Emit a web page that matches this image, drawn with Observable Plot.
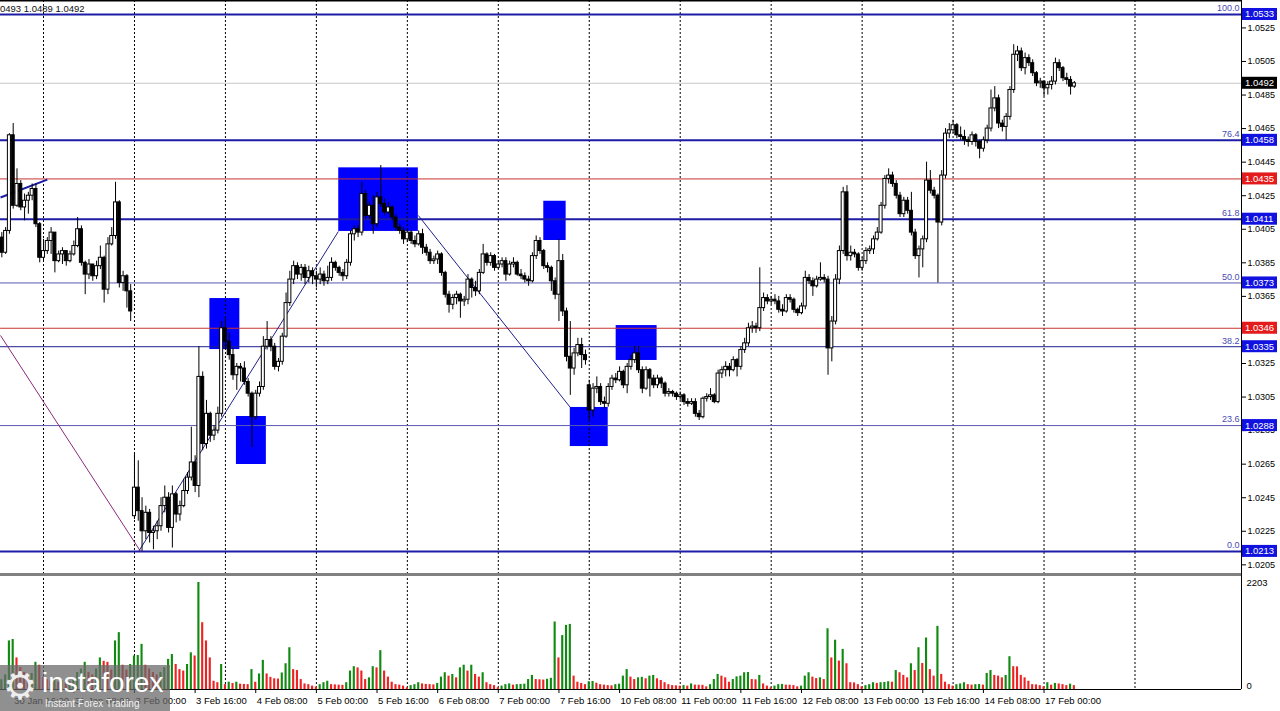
<!DOCTYPE html>
<html><head><meta charset="utf-8">
<script src="https://cdn.jsdelivr.net/npm/d3@7"></script>
<script src="https://cdn.jsdelivr.net/npm/@observablehq/plot@0.6"></script>
<style>
html,body{margin:0;padding:0;background:#fff;}
#wrap{position:relative;width:1280px;height:711px;overflow:hidden;background:#fff;font-family:"Liberation Sans",Arial,sans-serif;}
#main{position:absolute;left:0;top:0;}
#vol{position:absolute;left:0;top:574px;}
#sep{position:absolute;left:0;top:573px;width:1241px;height:3px;background:#808080;}
#hdr{position:absolute;left:0px;top:3px;font-size:9.5px;color:#101010;white-space:nowrap;}
#wm{position:absolute;left:0;top:665px;width:170px;height:46px;background:rgba(105,105,105,0.74);color:#fff;}
#wm .gear{position:absolute;left:3px;top:0px;font-size:38px;line-height:42px;font-family:"DejaVu Sans",sans-serif;color:#eee;}
#wm .brand{position:absolute;left:42px;top:3px;font-size:28px;line-height:30px;font-family:"Liberation Sans",Arial,sans-serif;}
#wm .tag{position:absolute;left:45px;top:33px;font-size:10px;line-height:11px;font-family:"Liberation Sans",Arial,sans-serif;color:#f2f2f2;}
</style></head><body>
<div id="wrap">
  <div id="main"></div>
  <div id="vol"></div>
  <div id="sep"></div>
  <div id="hdr">0493 1.0489 1.0492</div>
  <div id="wm"><span class="gear">⚙</span><span class="brand">instaforex</span><span class="tag">Instant Forex Trading</span></div>
</div>
<script>
// EURUSD H1 bars, first bar = 30 Jan 13:00 (bar index -11, index 0 = 31 Jan 00:00)
const open = [1.0400,1.0391,1.0404,1.0461,1.0419,1.0432,1.0418,1.0422,1.0425,1.0429,1.0408,
1.0388,1.0392,1.0398,1.0403,1.0386,1.0390,1.0392,1.0386,1.0390,1.0395,
1.0405,1.0385,1.0378,1.0384,1.0377,1.0383,1.0388,1.0369,1.0396,1.0401,
1.0421,1.0373,1.0377,1.0368,1.0234,1.0251,1.0237,1.0225,1.0236,1.0224,
1.0225,1.0228,1.0240,1.0245,1.0227,1.0247,1.0235,1.0240,1.0249,1.0257,
1.0266,1.0252,1.0317,1.0277,1.0295,1.0282,1.0285,1.0295,1.0346,1.0338,
1.0330,1.0318,1.0323,1.0322,1.0314,1.0307,1.0293,1.0307,1.0311,1.0335,
1.0339,1.0335,1.0323,1.0326,1.0341,1.0361,1.0375,1.0383,1.0378,1.0382,
1.0376,1.0380,1.0377,1.0375,1.0378,1.0374,1.0376,1.0385,1.0382,1.0379,
1.0377,1.0385,1.0402,1.0405,1.0403,1.0426,1.0413,1.0419,1.0408,1.0424,
1.0420,1.0415,1.0418,1.0412,1.0406,1.0404,1.0399,1.0403,1.0398,1.0396,
1.0402,1.0394,1.0391,1.0386,1.0387,1.0390,1.0379,1.0366,1.0360,1.0364,
1.0366,1.0362,1.0363,1.0375,1.0370,1.0368,1.0379,1.0390,1.0385,1.0389,
1.0382,1.0384,1.0386,1.0378,1.0384,1.0385,1.0378,1.0377,1.0375,1.0374,
1.0389,1.0398,1.0392,1.0383,1.0382,1.0374,1.0366,1.0386,1.0356,1.0329,
1.0322,1.0331,1.0336,1.0330,1.0312,1.0297,1.0310,1.0311,1.0302,1.0301,
1.0311,1.0316,1.0315,1.0320,1.0312,1.0323,1.0327,1.0331,1.0321,1.0310,
1.0321,1.0316,1.0312,1.0316,1.0313,1.0307,1.0308,1.0307,1.0305,1.0306,
1.0302,1.0301,1.0302,1.0295,1.0293,1.0304,1.0305,1.0306,1.0302,1.0319,
1.0321,1.0323,1.0321,1.0327,1.0323,1.0333,1.0337,1.0346,1.0347,1.0346,
1.0358,1.0364,1.0362,1.0363,1.0362,1.0357,1.0356,1.0364,1.0363,1.0357,
1.0355,1.0359,1.0376,1.0374,1.0371,1.0375,1.0376,1.0375,1.0334,1.0350,
1.0375,1.0392,1.0427,1.0389,1.0391,1.0390,1.0382,1.0386,1.0392,1.0393,
1.0399,1.0403,1.0419,1.0435,1.0437,1.0432,1.0425,1.0414,1.0422,1.0416,
1.0403,1.0389,1.0393,1.0399,1.0434,1.0428,1.0425,1.0409,1.0437,1.0462,
1.0464,1.0467,1.0461,1.0460,1.0458,1.0457,1.0461,1.0457,1.0453,1.0458,
1.0465,1.0477,1.0483,1.0468,1.0466,1.0472,1.0488,1.0509,1.0511,1.0501,
1.0507,1.0504,1.0498,1.0492,1.0493,1.0489,1.0491,1.0493,1.0504,1.0501,
1.0495,1.0494,1.0490];
const high = [1.0403,1.0406,1.0462,1.0468,1.0441,1.0434,1.0426,1.0427,1.0432,1.0432,1.0409,
1.0399,1.0400,1.0406,1.0403,1.0392,1.0394,1.0392,1.0392,1.0398,1.0412,
1.0407,1.0386,1.0387,1.0384,1.0386,1.0395,1.0389,1.0400,1.0406,1.0433,
1.0422,1.0380,1.0378,1.0372,1.0271,1.0267,1.0245,1.0240,1.0238,1.0228,
1.0231,1.0245,1.0252,1.0248,1.0252,1.0248,1.0243,1.0256,1.0260,1.0287,
1.0270,1.0335,1.0320,1.0303,1.0296,1.0288,1.0299,1.0350,1.0352,1.0343,
1.0334,1.0325,1.0325,1.0326,1.0316,1.0308,1.0309,1.0314,1.0341,1.0350,
1.0341,1.0337,1.0328,1.0343,1.0367,1.0380,1.0386,1.0385,1.0384,1.0384,
1.0383,1.0382,1.0380,1.0382,1.0380,1.0383,1.0388,1.0386,1.0383,1.0381,
1.0387,1.0404,1.0407,1.0407,1.0433,1.0428,1.0421,1.0425,1.0427,1.0443,
1.0423,1.0421,1.0419,1.0414,1.0408,1.0406,1.0405,1.0404,1.0401,1.0404,
1.0405,1.0396,1.0393,1.0389,1.0392,1.0391,1.0380,1.0368,1.0366,1.0368,
1.0367,1.0365,1.0378,1.0376,1.0374,1.0381,1.0396,1.0391,1.0391,1.0390,
1.0386,1.0388,1.0388,1.0386,1.0388,1.0386,1.0381,1.0379,1.0377,1.0391,
1.0401,1.0400,1.0393,1.0385,1.0383,1.0376,1.0399,1.0390,1.0358,1.0350,
1.0334,1.0340,1.0340,1.0333,1.0315,1.0313,1.0317,1.0313,1.0305,1.0313,
1.0318,1.0319,1.0323,1.0321,1.0325,1.0330,1.0335,1.0335,1.0323,1.0323,
1.0322,1.0318,1.0318,1.0317,1.0314,1.0310,1.0309,1.0308,1.0308,1.0307,
1.0304,1.0304,1.0304,1.0297,1.0305,1.0307,1.0310,1.0307,1.0321,1.0323,
1.0326,1.0325,1.0329,1.0328,1.0335,1.0340,1.0349,1.0350,1.0349,1.0382,
1.0367,1.0366,1.0365,1.0366,1.0365,1.0360,1.0366,1.0366,1.0364,1.0358,
1.0361,1.0380,1.0378,1.0376,1.0377,1.0385,1.0378,1.0377,1.0353,1.0378,
1.0395,1.0430,1.0431,1.0395,1.0393,1.0391,1.0388,1.0394,1.0395,1.0401,
1.0406,1.0421,1.0437,1.0441,1.0439,1.0434,1.0427,1.0424,1.0424,1.0427,
1.0405,1.0395,1.0401,1.0445,1.0440,1.0430,1.0426,1.0440,1.0465,1.0468,
1.0470,1.0468,1.0466,1.0464,1.0460,1.0463,1.0462,1.0458,1.0460,1.0467,
1.0488,1.0490,1.0485,1.0470,1.0474,1.0490,1.0515,1.0514,1.0513,1.0510,
1.0509,1.0506,1.0499,1.0495,1.0493,1.0493,1.0496,1.0507,1.0506,1.0502,
1.0498,1.0496,1.0493];
const low = [1.0388,1.0390,1.0402,1.0417,1.0418,1.0416,1.0410,1.0414,1.0422,1.0406,1.0385,
1.0386,1.0390,1.0390,1.0379,1.0385,1.0384,1.0383,1.0385,1.0389,1.0394,
1.0383,1.0366,1.0375,1.0374,1.0375,1.0381,1.0361,1.0366,1.0395,1.0399,
1.0370,1.0368,1.0358,1.0350,1.0232,1.0231,1.0213,1.0220,1.0218,1.0214,
1.0220,1.0225,1.0236,1.0224,1.0215,1.0230,1.0231,1.0239,1.0247,1.0255,
1.0248,1.0245,1.0273,1.0274,1.0278,1.0279,1.0283,1.0293,1.0333,1.0327,
1.0315,1.0309,1.0314,1.0312,1.0305,1.0275,1.0291,1.0305,1.0309,1.0333,
1.0332,1.0321,1.0320,1.0324,1.0340,1.0359,1.0372,1.0375,1.0374,1.0372,
1.0373,1.0372,1.0370,1.0372,1.0371,1.0372,1.0374,1.0380,1.0377,1.0374,
1.0375,1.0383,1.0398,1.0400,1.0401,1.0411,1.0411,1.0402,1.0406,1.0418,
1.0413,1.0414,1.0410,1.0404,1.0402,1.0396,1.0397,1.0396,1.0394,1.0395,
1.0390,1.0389,1.0384,1.0384,1.0384,1.0377,1.0364,1.0355,1.0357,1.0360,
1.0352,1.0359,1.0360,1.0364,1.0365,1.0366,1.0378,1.0383,1.0383,1.0380,
1.0381,1.0382,1.0374,1.0377,1.0382,1.0377,1.0375,1.0373,1.0371,1.0373,
1.0387,1.0390,1.0381,1.0379,1.0368,1.0363,1.0350,1.0353,1.0326,1.0306,
1.0318,1.0329,1.0322,1.0324,1.0291,1.0293,1.0307,1.0300,1.0298,1.0299,
1.0309,1.0313,1.0314,1.0310,1.0307,1.0321,1.0325,1.0319,1.0307,1.0309,
1.0305,1.0310,1.0310,1.0310,1.0305,1.0305,1.0305,1.0303,1.0303,1.0300,
1.0299,1.0300,1.0293,1.0291,1.0292,1.0302,1.0303,1.0301,1.0301,1.0316,
1.0317,1.0317,1.0320,1.0317,1.0321,1.0331,1.0335,1.0343,1.0343,1.0344,
1.0356,1.0360,1.0360,1.0360,1.0355,1.0353,1.0355,1.0361,1.0355,1.0353,
1.0354,1.0357,1.0372,1.0365,1.0370,1.0374,1.0373,1.0318,1.0326,1.0348,
1.0372,1.0390,1.0386,1.0386,1.0388,1.0380,1.0380,1.0384,1.0390,1.0390,
1.0398,1.0402,1.0417,1.0432,1.0430,1.0423,1.0412,1.0412,1.0414,1.0401,
1.0387,1.0376,1.0382,1.0397,1.0426,1.0423,1.0373,1.0407,1.0435,1.0459,
1.0462,1.0459,1.0458,1.0455,1.0454,1.0455,1.0454,1.0447,1.0451,1.0456,
1.0463,1.0475,1.0465,1.0463,1.0458,1.0470,1.0486,1.0505,1.0499,1.0497,
1.0502,1.0496,1.0490,1.0489,1.0484,1.0485,1.0488,1.0491,1.0499,1.0493,
1.0491,1.0485,1.0489];
const close = [1.0391,1.0404,1.0461,1.0419,1.0432,1.0418,1.0422,1.0425,1.0429,1.0408,1.0388,
1.0392,1.0398,1.0403,1.0386,1.0390,1.0392,1.0386,1.0390,1.0395,1.0405,
1.0385,1.0378,1.0384,1.0377,1.0383,1.0388,1.0369,1.0396,1.0401,1.0421,
1.0373,1.0377,1.0368,1.0356,1.0251,1.0237,1.0225,1.0236,1.0224,1.0225,
1.0228,1.0240,1.0245,1.0227,1.0247,1.0235,1.0240,1.0249,1.0257,1.0266,
1.0252,1.0317,1.0277,1.0295,1.0282,1.0285,1.0295,1.0346,1.0338,1.0330,
1.0318,1.0323,1.0322,1.0314,1.0307,1.0293,1.0307,1.0311,1.0335,1.0339,
1.0335,1.0323,1.0326,1.0341,1.0361,1.0375,1.0383,1.0378,1.0382,1.0376,
1.0380,1.0377,1.0375,1.0378,1.0374,1.0376,1.0385,1.0382,1.0379,1.0377,
1.0385,1.0402,1.0405,1.0403,1.0426,1.0413,1.0419,1.0408,1.0424,1.0420,
1.0415,1.0418,1.0412,1.0406,1.0404,1.0399,1.0403,1.0398,1.0396,1.0402,
1.0394,1.0391,1.0386,1.0387,1.0390,1.0379,1.0366,1.0360,1.0364,1.0366,
1.0362,1.0363,1.0375,1.0370,1.0368,1.0379,1.0390,1.0385,1.0389,1.0382,
1.0384,1.0386,1.0378,1.0384,1.0385,1.0378,1.0377,1.0375,1.0374,1.0389,
1.0398,1.0392,1.0383,1.0382,1.0374,1.0366,1.0386,1.0356,1.0329,1.0322,
1.0331,1.0336,1.0330,1.0327,1.0297,1.0310,1.0311,1.0302,1.0301,1.0311,
1.0316,1.0315,1.0320,1.0312,1.0323,1.0327,1.0331,1.0321,1.0310,1.0321,
1.0316,1.0312,1.0316,1.0313,1.0307,1.0308,1.0307,1.0305,1.0306,1.0302,
1.0301,1.0302,1.0295,1.0293,1.0304,1.0305,1.0306,1.0302,1.0319,1.0321,
1.0323,1.0321,1.0327,1.0323,1.0333,1.0337,1.0346,1.0347,1.0346,1.0358,
1.0364,1.0362,1.0363,1.0362,1.0357,1.0356,1.0364,1.0363,1.0357,1.0355,
1.0359,1.0376,1.0374,1.0371,1.0375,1.0376,1.0375,1.0334,1.0350,1.0375,
1.0392,1.0427,1.0389,1.0391,1.0390,1.0382,1.0386,1.0392,1.0393,1.0399,
1.0403,1.0419,1.0435,1.0437,1.0432,1.0425,1.0414,1.0422,1.0416,1.0403,
1.0389,1.0393,1.0399,1.0434,1.0428,1.0425,1.0409,1.0437,1.0462,1.0464,
1.0467,1.0461,1.0460,1.0458,1.0457,1.0461,1.0457,1.0453,1.0458,1.0465,
1.0477,1.0483,1.0468,1.0466,1.0472,1.0488,1.0509,1.0511,1.0501,1.0507,
1.0504,1.0498,1.0492,1.0493,1.0489,1.0491,1.0493,1.0504,1.0501,1.0495,
1.0494,1.0490,1.0492];
const volume = [200,300,1000,1030,650,450,350,300,330,560,500,
250,200,180,220,150,180,140,160,200,350,
420,560,350,300,420,650,580,560,400,1000,
1170,500,400,515,690,700,930,500,420,350,
300,350,450,620,720,515,410,380,515,755,
690,2203,1375,1000,650,170,140,515,100,150,
125,150,110,105,100,410,150,320,600,320,
250,220,215,340,530,860,410,390,205,115,
100,70,50,100,140,170,100,95,90,85,
140,380,470,445,380,205,240,470,445,800,
380,255,150,100,90,70,35,80,100,140,
115,105,100,95,125,255,345,275,310,240,
445,500,380,500,310,255,345,140,100,80,
35,70,100,115,90,100,105,110,205,290,
205,200,195,210,230,1390,650,1110,1320,1340,
275,150,125,100,160,165,130,100,90,80,
75,100,110,275,410,255,205,240,250,220,
275,290,220,185,140,100,80,75,70,80,
70,115,90,88,86,55,100,205,310,275,
240,150,205,260,275,345,350,205,200,290,
115,70,35,70,100,105,90,88,80,55,
70,275,345,255,225,240,205,1250,650,1015,
585,825,530,140,135,100,55,80,100,140,
125,140,145,160,150,390,345,290,240,530,
390,860,535,1060,410,275,1300,310,150,100,
70,100,115,140,100,90,100,103,90,330,
390,290,275,240,290,675,470,465,290,240,
170,100,95,80,55,140,90,125,115,100,
80,110,80];

// price-axis tick labels (1.0345 sits under the 1.0346 tag in the original and is not shown)
const priceTicks = [1.0205,1.0225,1.0245,1.0265,1.0285,1.0305,1.0325,1.0365,1.0385,1.0405,1.0425,1.0445,1.0465,1.0485,1.0505,1.0525];
// Fibonacci levels
const fibLabels = ["100.0","76.4","61.8","50.0","38.2","23.6","0.0"];
const fibPrices = [1.0533,1.0458,1.0411,1.0373,1.0335,1.0288,1.0213];
const fibStyle  = ["bold","bold","bold","light","thin","light","bold"];
const redLevels = [1.0435,1.0346];
const lastPrice = 1.0492;
// time axis: bar index of each label (index 0 = 31 Jan 00:00)
const timeIdx = [-8,8,24,40,56,72,88,104,120,136,152,168,184,200,216,232,248,264];
const timeText = ["30 Jan 16:00","31 Jan 08:00","3 Feb 00:00","3 Feb 16:00","4 Feb 08:00","5 Feb 00:00","5 Feb 16:00","6 Feb 08:00","7 Feb 00:00","7 Feb 16:00","10 Feb 08:00","11 Feb 00:00","11 Feb 16:00","12 Feb 08:00","13 Feb 00:00","13 Feb 16:00","14 Feb 08:00","17 Feb 00:00"];
// day separators (00:00 of each trading day)
const dayStarts = [0,24,48,72,96,120,144,168,192,216,240,264,288];
// blue zones: bar range and price range
const boxI1 = [43.9,50.9,77.9,132.0,151.1,139.0];
const boxI2 = [51.8,58.8,98.9,137.9,161.9,149.0];
const boxP1 = [1.03637,1.02934,1.04416,1.04217,1.03476,1.02988];
const boxP2 = [1.03333,1.02648,1.04037,1.03983,1.03268,1.02755];
// trend lines
const trendI1 = [-11.35,25.1,98.9,-11.35];
const trendP1 = [1.03417,1.0213,1.04132,1.04239];
const trendI2 = [25.6,77.8,139.0,1.0];
const trendP2 = [1.0213,1.04037,1.02988,1.04346];
const trendColor = ["#8a2a7a","#20208a","#20208a","#1c1ca6"];
const trendWidth = [1,1,1,2];
const volTop = 2203;

const firstBar = -11;
const bars = close.map((c,k)=>({i:firstBar+k,o:open[k],h:high[k],l:low[k],c,v:volume[k],
  up: k===0 || volume[k] > volume[k-1]}));
const fibs = fibPrices.map((p,k)=>({p,label:fibLabels[k],style:fibStyle[k]}));
const boxes = boxI1.map((v,k)=>({i1:v,i2:boxI2[k],p1:boxP1[k],p2:boxP2[k]}));
const trends = trendI1.map((v,k)=>({i1:v,p1:trendP1[k],i2:trendI2[k],p2:trendP2[k],c:trendColor[k],w:trendWidth[k]}));
const timeLabels = timeIdx.map((i,k)=>({i,t:timeText[k]}));

const xDomain = [-11.35, 316.1];
const yDomain = [1.019924, 1.054134];
const FONT = "'Liberation Sans', Arial, sans-serif";

const main = Plot.plot({
  width:1280, height:574, marginLeft:0, marginRight:39, marginTop:0, marginBottom:0,
  style:{fontFamily:FONT, fontSize:"9px", background:"#fff", overflow:"visible", color:"#000"},
  x:{domain:xDomain, axis:null},
  y:{domain:yDomain, axis:"right", ticks:priceTicks, tickFormat:d3.format(".4f"), tickSize:4, tickPadding:2, label:null},
  marks:[
    Plot.rect(boxes,{x1:"i1",x2:"i2",y1:"p1",y2:"p2",fill:"#0000ff"}),
    Plot.ruleX(dayStarts,{stroke:"#000",strokeDasharray:"2,2",strokeWidth:1}),
    Plot.ruleY([lastPrice],{stroke:"#c8c8c8"}),
    Plot.ruleY(redLevels,{stroke:"#cc3333"}),
    Plot.ruleY(fibs.filter(d=>d.style==="bold"),{y:"p",stroke:"#1c1ca6",strokeWidth:2}),
    Plot.ruleY(fibs.filter(d=>d.style==="thin"),{y:"p",stroke:"#1e1e8c",strokeWidth:1}),
    Plot.ruleY(fibs.filter(d=>d.style==="light"),{y:"p",stroke:"#5a5ab0",strokeWidth:1}),
    Plot.text(fibs,{x:xDomain[1],y:"p",text:"label",textAnchor:"end",dx:-2,dy:-6,fill:"#4a4ab4",fontSize:9}),
    Plot.link(trends,{x1:"i1",y1:"p1",x2:"i2",y2:"p2",stroke:d=>d.c,strokeWidth:d=>d.w}),
    Plot.ruleX(bars,{x:"i",y1:"l",y2:"h",stroke:"#000",strokeWidth:1}),
    Plot.rect(bars,{x1:d=>d.i-0.4,x2:d=>d.i+0.4,y1:"o",y2:"c",fill:d=>d.c>=d.o?"#fff":"#000",stroke:"#000",strokeWidth:1}),
    Plot.ruleX([xDomain[1]],{stroke:"#000"}),
    Plot.ruleY([yDomain[1]],{stroke:"#000",strokeWidth:2})
  ]
});
document.getElementById("main").appendChild(main);

// coloured price tags on the right axis, positioned through the plot's y scale
const ys = main.scale("y");
const tags = [
  ...fibPrices.map(p=>({p,bg:"#1212e0"})),
  ...redLevels.map(p=>({p,bg:"#e41b1b"})),
  {p:lastPrice,bg:"#000"}
];
const tg = d3.select(main).append("g").attr("font-family",FONT).attr("font-size",9.5).attr("text-anchor","start");
for (const t of tags){
  const y = ys.apply(t.p);
  tg.append("rect").attr("x",1242).attr("y",y-6).attr("width",35).attr("height",12).attr("fill",t.bg);
  tg.append("text").attr("x",1245).attr("y",y+3.5).attr("text-anchor","start").attr("fill","#fff").text(d3.format(".4f")(t.p));
}

const vol = Plot.plot({
  width:1280, height:137, marginLeft:0, marginRight:39, marginTop:0, marginBottom:22,
  style:{fontFamily:FONT, fontSize:"9px", background:"#fff", overflow:"visible", color:"#000"},
  x:{domain:xDomain, axis:"bottom", ticks:timeIdx, tickFormat:()=>"", tickSize:4, label:null},
  y:{domain:[0, volTop*115/107], axis:null},
  marks:[
    Plot.ruleX(dayStarts,{stroke:"#000",strokeDasharray:"2,2",strokeWidth:1}),
    Plot.rect(bars,{x1:d=>d.i-0.28,x2:d=>d.i+0.28,y1:0,y2:"v",fill:d=>d.up?"#108a10":"#ee2222"}),
    Plot.ruleY([0],{stroke:"#000"}),
    Plot.ruleX([xDomain[1]],{stroke:"#000"}),
    Plot.text(timeLabels,{x:"i",y:0,text:"t",textAnchor:"start",dx:1,dy:11,fontSize:9.5,fill:"#000"}),
    Plot.text([volTop],{x:xDomain[1],y:d=>d,text:d=>String(d),textAnchor:"start",dx:5,fontSize:9.5}),
    Plot.text([0],{x:xDomain[1],y:d=>d,text:d=>String(d),textAnchor:"start",dx:5,dy:-4,fontSize:9.5})
  ]
});
document.getElementById("vol").appendChild(vol);
</script>
</body></html>
